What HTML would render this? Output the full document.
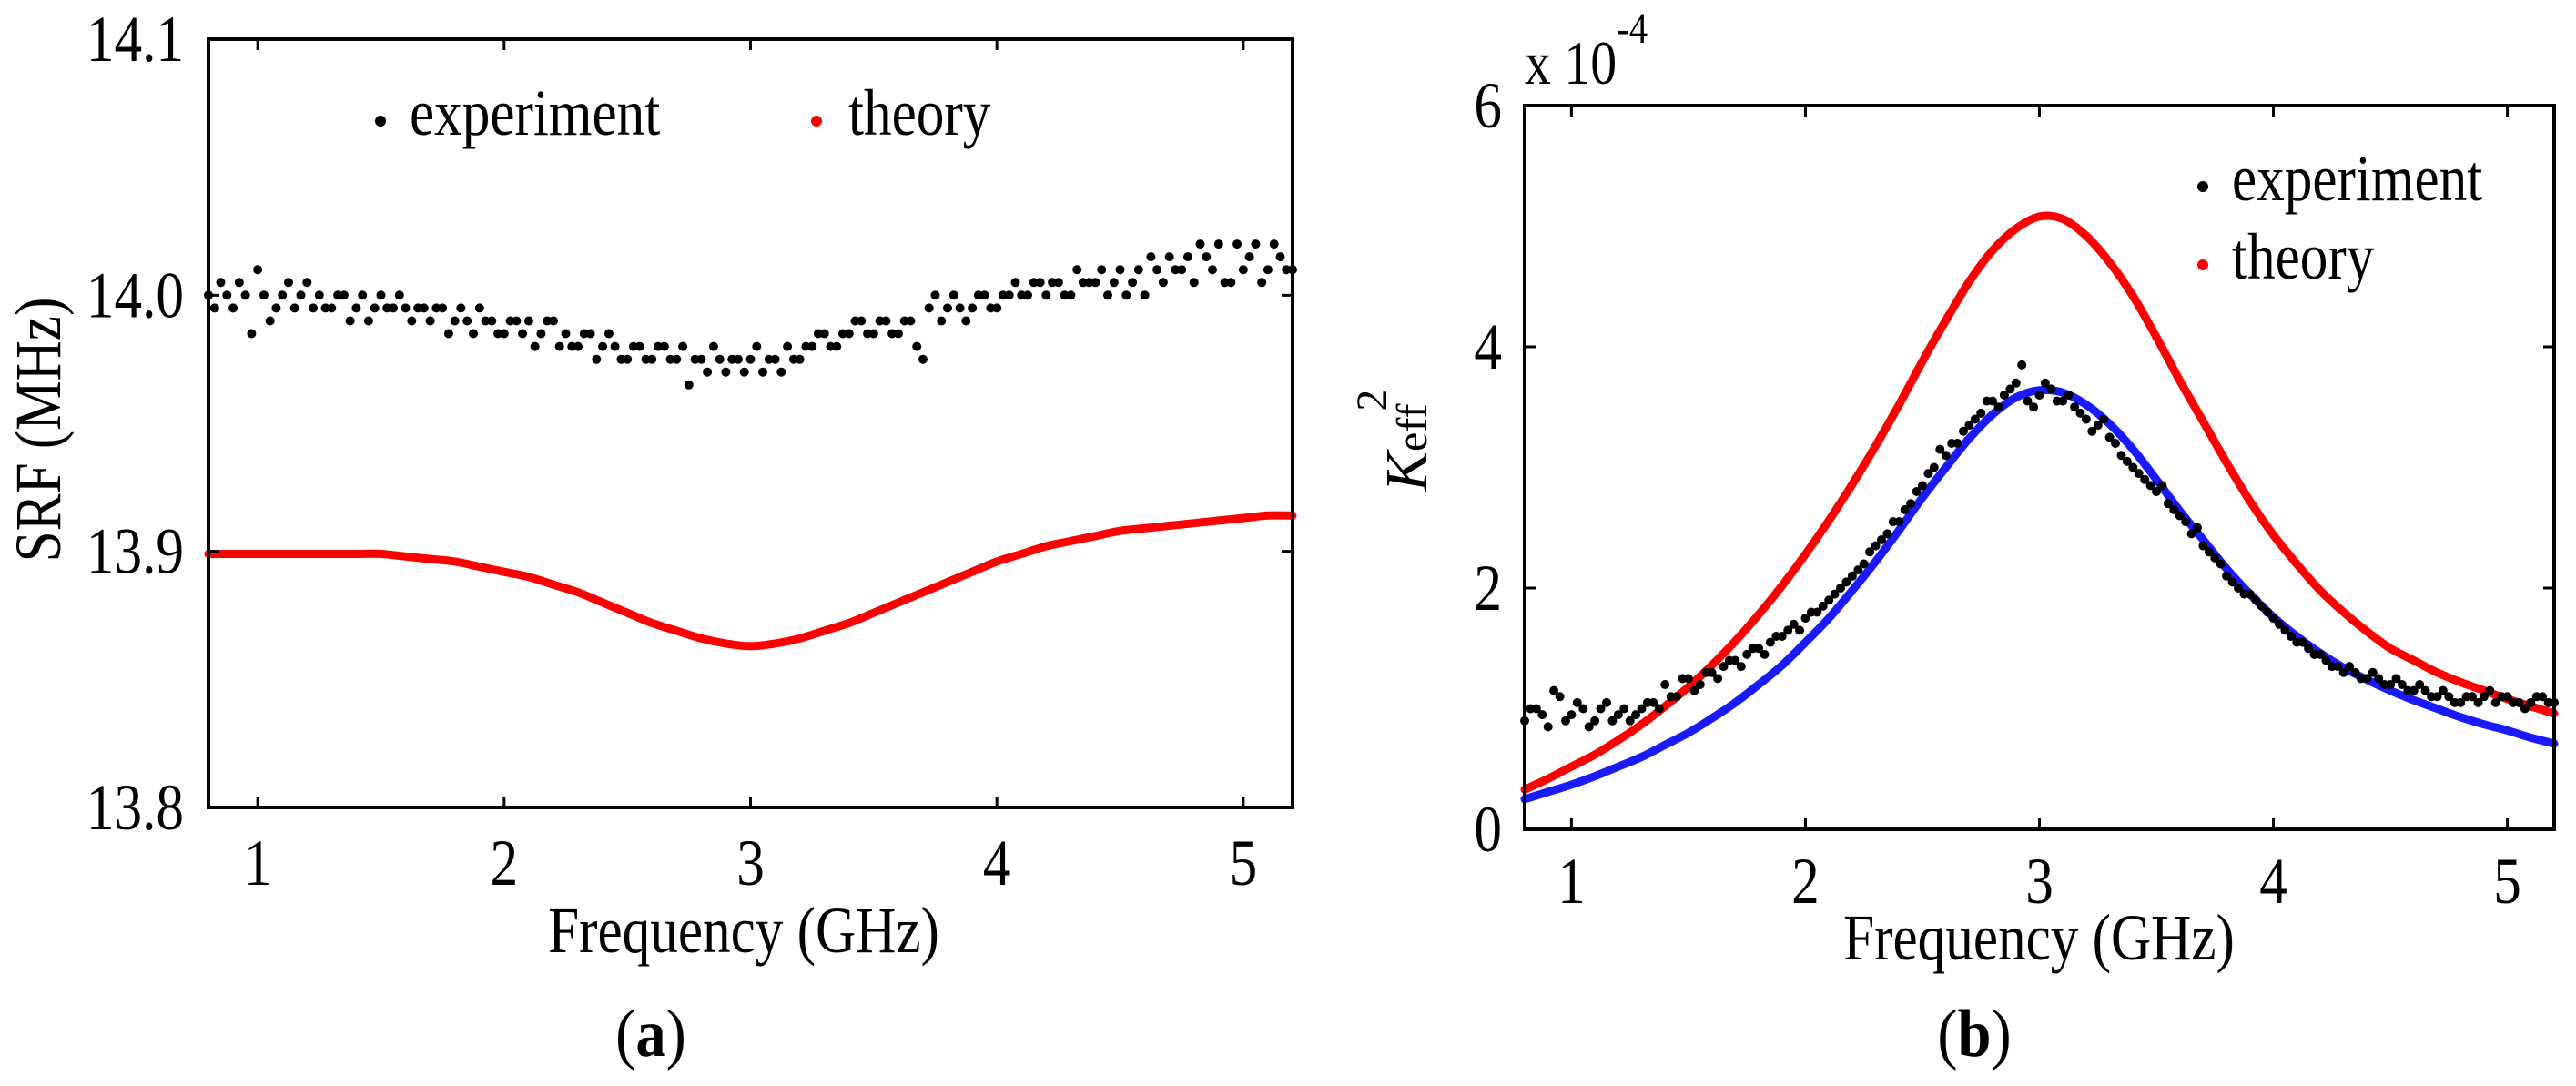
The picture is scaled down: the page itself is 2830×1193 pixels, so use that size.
<!DOCTYPE html>
<html><head><meta charset="utf-8"><style>
html,body{margin:0;padding:0;background:#fff;}
svg{display:block;}
text{font-family:"Liberation Serif","Times New Roman",Times,serif;}
</style></head><body>
<svg id="fig" width="2830" height="1193" viewBox="0 0 2830 1193" xmlns="http://www.w3.org/2000/svg" style="position:absolute;left:0;top:0">
<g id="pa"></g>
<g id="pb"></g>
<g fill="#000">
<text transform="translate(66 472) rotate(-90) scale(0.85 1)" font-size="72" text-anchor="middle">SRF (MHz)</text>
<text transform="translate(817 1046) scale(0.85 1)" font-size="72" text-anchor="middle">Frequency (GHz)</text>
<text transform="translate(715 1160) scale(0.9 1)" font-size="74" text-anchor="middle">(<tspan font-weight="bold">a</tspan>)</text>
<circle cx="418" cy="133" r="6" fill="#000"/>
<text transform="translate(450 148) scale(0.85 1)" font-size="72">experiment</text>
<circle cx="897" cy="133" r="6" fill="#ff0000"/>
<text transform="translate(932 148) scale(0.85 1)" font-size="72">theory</text>

<text transform="translate(1567 540) rotate(-90)" font-size="66"><tspan font-style="italic">K</tspan><tspan font-size="48">eff</tspan><tspan font-size="48" dy="-44" dx="-8">2</tspan></text>
<text transform="translate(1675 92) scale(0.85 1)" font-size="68">x 10<tspan font-size="48" dy="-45">-4</tspan></text>
<text transform="translate(2240 1054) scale(0.85 1)" font-size="72" text-anchor="middle">Frequency (GHz)</text>
<text transform="translate(2169 1160) scale(0.9 1)" font-size="74" text-anchor="middle">(<tspan font-weight="bold">b</tspan>)</text>
<circle cx="2420" cy="205" r="6" fill="#000"/>
<text transform="translate(2452 220) scale(0.85 1)" font-size="72">experiment</text>
<circle cx="2420" cy="291" r="6" fill="#ff0000"/>
<text transform="translate(2452 306) scale(0.85 1)" font-size="72">theory</text>
</g>
</svg>
<script>
// ---- Panel (a) data ----
const aExpX0 = 0.8, aExpStep = 0.05;
const aExperiment = [
14.000,14.005,13.995,14.000,14.010,13.990,14.000,13.995,14.005,
14.000,13.995,14.000,13.995,13.990,14.000,13.995,13.995,13.995,
13.990,13.995,13.990,13.990,13.995,13.990,13.985,13.990,13.990,
13.985,13.990,13.985,13.980,13.985,13.980,13.980,13.975,13.980,
13.975,13.980,13.975,13.965,13.975,13.980,13.970,13.975,13.975,
13.970,13.975,13.980,13.975,13.980,13.985,13.980,13.985,13.990,
13.985,13.990,13.985,13.990,13.975,14.000,13.995,13.995,13.995,
14.000,13.995,14.000,14.000,14.005,14.000,14.005,14.000,14.005,
14.005,14.000,14.010,14.005,14.000,14.010,14.015,14.010,14.005,
14.015,14.020,14.005,14.010,14.020,14.010,14.015,14.010];
const aExperiment2 = [
13.995,14.000,14.005,13.985,14.000,13.995,14.005,14.000,13.995,
13.995,14.000,13.990,14.000,13.995,13.995,14.000,13.990,13.995,
13.995,13.985,13.995,13.985,13.990,13.985,13.990,13.985,13.980,
13.990,13.980,13.980,13.985,13.975,13.985,13.975,13.980,13.975,
13.980,13.975,13.980,13.975,13.970,13.975,13.975,13.970,13.980,
13.975,13.970,13.975,13.980,13.985,13.980,13.985,13.990,13.985,
13.990,13.985,13.990,13.980,13.995,13.990,14.000,13.990,14.000,
13.995,14.000,14.005,14.000,14.005,14.005,14.000,14.010,14.005,
14.010,14.005,14.000,14.010,14.015,14.005,14.010,14.015,14.020,
14.010,14.005,14.020,14.015,14.005,14.020,14.010,14.015];
const curveX0 = 0.8, curveStep = 0.1;
const aTheory = [
13.899,13.899,13.899,13.899,13.899,13.899,13.899,13.899,13.898,
13.897,13.896,13.894,13.892,13.890,13.887,13.884,13.880,13.876,
13.872,13.869,13.866,13.864,13.863,13.864,13.866,13.869,13.872,
13.876,13.880,13.884,13.888,13.892,13.896,13.899,13.902,13.904,
13.906,13.908,13.909,13.910,13.911,13.912,13.913,13.914,13.914];
const aXTicks = [1,2,3,4,5];
const aYTicks = [13.8,13.9,14.0,14.1];
const aYTickLabels = ["13.8","13.9","14.0","14.1"];

// ---- Panel (b) data ----
const bExperiment = [
0.90,1.00,0.85,1.10,0.95,1.00,0.90,1.05,0.95,
0.90,1.00,1.05,1.20,1.10,1.25,1.20,1.30,1.35,
1.40,1.45,1.50,1.55,1.60,1.70,1.75,1.80,1.90,
2.00,2.10,2.20,2.35,2.45,2.55,2.70,2.85,3.00,
3.10,3.20,3.35,3.45,3.55,3.60,3.70,3.55,3.60,
3.65,3.55,3.50,3.40,3.35,3.25,3.10,3.00,2.90,
2.80,2.70,2.60,2.45,2.35,2.25,2.10,2.00,1.95,
1.85,1.75,1.65,1.55,1.50,1.45,1.35,1.30,1.30,
1.25,1.25,1.20,1.20,1.15,1.15,1.10,1.10,1.05,
1.10,1.10,1.05,1.10,1.05,1.05,1.10,1.05];
const bExperiment2 = [
1.00,0.95,1.15,0.90,1.05,0.85,1.00,0.90,1.00,
0.95,1.05,1.00,1.10,1.25,1.15,1.30,1.25,1.40,
1.35,1.50,1.45,1.60,1.65,1.65,1.80,1.85,1.95,
2.05,2.15,2.30,2.40,2.55,2.65,2.80,2.95,3.15,
3.20,3.30,3.40,3.55,3.50,3.65,3.85,3.50,3.70,
3.55,3.60,3.45,3.30,3.40,3.20,3.05,2.95,2.85,
2.85,2.65,2.55,2.50,2.30,2.20,2.05,1.95,1.90,
1.80,1.70,1.60,1.55,1.45,1.40,1.35,1.35,1.25,
1.30,1.20,1.25,1.15,1.20,1.10,1.15,1.05,1.10,
1.05,1.15,1.10,1.05,1.00,1.10,1.05,1.00];
const bTheory = [
0.33,0.42,0.52,0.62,0.74,0.87,1.02,1.18,1.36,
1.56,1.78,2.02,2.28,2.56,2.86,3.18,3.52,3.88,
4.22,4.54,4.80,4.98,5.08,5.06,4.92,4.70,4.42,
4.08,3.72,3.38,3.04,2.72,2.44,2.20,1.98,1.80,
1.64,1.50,1.40,1.30,1.22,1.15,1.08,1.02,0.96];
const bFit = [
0.25,0.31,0.37,0.44,0.52,0.60,0.70,0.80,0.92,
1.05,1.20,1.36,1.55,1.75,1.98,2.22,2.48,2.75,
3.00,3.24,3.44,3.58,3.64,3.62,3.52,3.36,3.15,
2.90,2.64,2.40,2.16,1.95,1.76,1.60,1.46,1.34,
1.24,1.15,1.07,1.00,0.93,0.87,0.82,0.76,0.71];
const bXTicks = [1,2,3,4,5];
const bYTicks = [0,2,4,6];
const bYTickLabels = ["0","2","4","6"];

const NS = "http://www.w3.org/2000/svg";
function mk(parent, tag, attrs, text){
  const e = document.createElementNS(NS, tag);
  for (const k in attrs) e.setAttribute(k, attrs[k]);
  if (text !== undefined) e.textContent = text;
  parent.appendChild(e); return e;
}
function scale(d0,d1,r0,r1){ return v => r0 + (v-d0)/(d1-d0)*(r1-r0); }
function smoothPath(pts){
  let d = "M"+pts[0][0].toFixed(1)+","+pts[0][1].toFixed(1);
  for (let i=0;i<pts.length-1;i++){
    const p0=pts[Math.max(0,i-1)], p1=pts[i], p2=pts[i+1], p3=pts[Math.min(pts.length-1,i+2)];
    const c1x=p1[0]+(p2[0]-p0[0])/6, c1y=p1[1]+(p2[1]-p0[1])/6;
    const c2x=p2[0]-(p3[0]-p1[0])/6, c2y=p2[1]-(p3[1]-p1[1])/6;
    d += "C"+c1x.toFixed(1)+","+c1y.toFixed(1)+" "+c2x.toFixed(1)+","+c2y.toFixed(1)+" "+p2[0].toFixed(1)+","+p2[1].toFixed(1);
  }
  return d;
}

function drawPanel(g, o){
  const sx = scale(0.8,5.2,o.L,o.R), sy = scale(o.y0,o.y1,o.B,o.T);
  o.curves.forEach(c => {
    const pts = c.data.map((v,i)=>[sx(curveX0+i*curveStep), sy(v)]);
    const p = mk(g,"path",{d:smoothPath(pts),fill:"none",stroke:c.color,"stroke-width":9,"stroke-linejoin":"round","stroke-linecap":"round"});
    
    
  });
  o.dots.forEach(ds => {
    const grp = mk(g,"g",{});
    
    
    ds.data.forEach((v,i)=>{
      const x = aExpX0 + i*aExpStep + ds.off;
      if (x>5.2) return;
      const c = mk(grp,"circle",{cx:sx(x).toFixed(1),cy:sy(v).toFixed(1),r:5,fill:"#000"});
      
      
    });
  });
  const f = mk(g,"rect",{x:o.L,y:o.T,width:o.R-o.L,height:o.B-o.T,fill:"none",stroke:"#000","stroke-width":4});
  
  
  o.xt.forEach(t=>{
    const x=sx(t);
    const a = mk(g,"path",{d:`M${x},${o.B}V${o.B-12}M${x},${o.T}V${o.T+12}`,stroke:"#000","stroke-width":3});
    
    
    const l = mk(g,"text",{transform:`translate(${x} ${o.xlY}) scale(0.85 1)`,"font-size":72,"text-anchor":"middle"},String(t));
    
    
  });
  o.yt.forEach((t,i)=>{
    const y=sy(t);
    const a = mk(g,"path",{d:`M${o.L},${y}H${o.L+12}M${o.R},${y}H${o.R-12}`,stroke:"#000","stroke-width":3});
    
    
    const l = mk(g,"text",{transform:`translate(${o.ylX} ${y+24}) scale(0.85 1)`,"font-size":72,"text-anchor":"end"},o.ytl[i]);
    
    
  });
}

const pa = document.getElementById('pa'), pb = document.getElementById('pb');
drawPanel(pa,{L:229,R:1420,T:43,B:887,y0:13.8,y1:14.1,xt:aXTicks,yt:aYTicks,ytl:aYTickLabels,xlY:972,ylX:202,
  curves:[{data:aTheory,color:"#ff0000",name:"theory-curve"}],
  dots:[{data:aExperiment,off:0,name:"experiment-points"},{data:aExperiment2,off:0.025,name:"experiment-points-2"}]});
drawPanel(pb,{L:1675,R:2806,T:116,B:911,y0:0,y1:6,xt:bXTicks,yt:bYTicks,ytl:bYTickLabels,xlY:992,ylX:1650,
  curves:[{data:bTheory,color:"#ff0000",name:"theory-curve"},{data:bFit,color:"#1a1aff",name:"fit-curve"}],
  dots:[{data:bExperiment,off:0,name:"experiment-points"},{data:bExperiment2,off:0.025,name:"experiment-points-2"}]});
</script>
</body></html>
